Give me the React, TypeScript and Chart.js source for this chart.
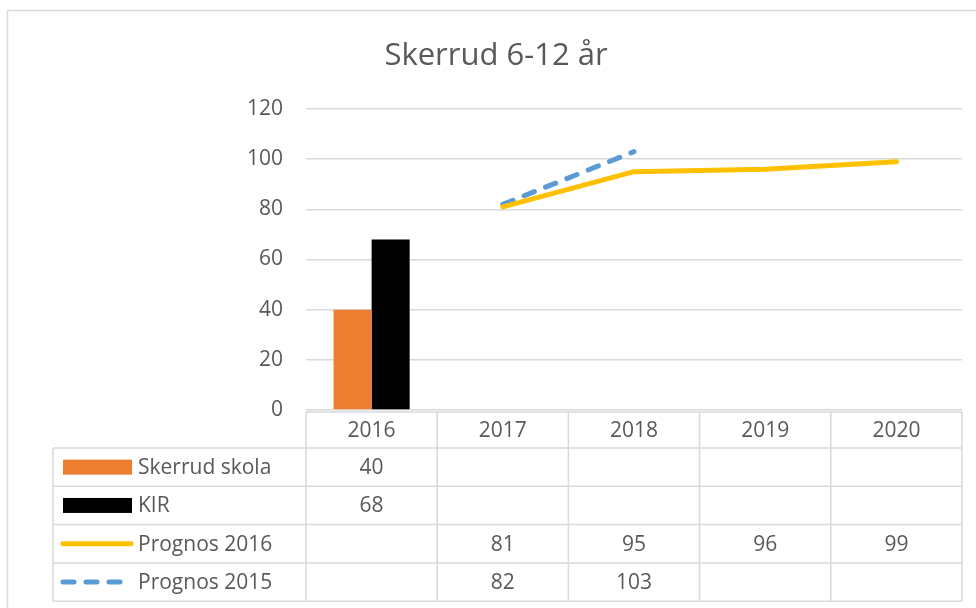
import React, { useEffect, useRef } from "react";
import { Chart, registerables } from "chart.js";

Chart.register(...registerables);

const TITLE = "Skerrud 6-12 år";
const YEARS = ["2016", "2017", "2018", "2019", "2020"];
const SERIES_NAMES = ["Skerrud skola", "KIR", "Prognos 2016", "Prognos 2015"];
const SKERRUD_SKOLA: (number | null)[] = [40, null, null, null, null];
const KIR: (number | null)[] = [68, null, null, null, null];
const PROGNOS_2016: (number | null)[] = [null, 81, 95, 96, 99];
const PROGNOS_2015: (number | null)[] = [null, 82, 103, null, null];
const Y_TICKS = [0, 20, 40, 60, 80, 100, 120];

const FONT = '"Open Sans", "Noto Sans", sans-serif';
const TEXT = "#595959";
const GRID = "#D9D9D9";
const ORANGE = "#ED7D31";
const BLACK = "#000000";
const YELLOW = "#FFC000";
const BLUE = "#5B9BD5";
const DASH = [11, 12];

const tablePlugin = {
  id: "dataTable",
  beforeDraw(chart: any) {
    const ctx = chart.ctx;
    ctx.save();
    ctx.strokeStyle = GRID;
    ctx.lineWidth = 1.5;
    ctx.strokeRect(7.5, 10.5, 1100, 800);
    ctx.restore();
  },
  afterDraw(chart: any) {
    const ctx = chart.ctx;
    const x = chart.scales.x;
    const area = chart.chartArea;
    const n = YEARS.length;
    const colW = (x.right - x.left) / n;
    const top = area.bottom + 2;
    const headerH = 36;
    const rowH = 38.3;
    const legendLeft = 53;
    const rows = chart.data.datasets;
    const bottom = top + headerH + rowH * rows.length;

    ctx.save();
    // title
    ctx.fillStyle = TEXT;
    ctx.font = `31px ${FONT}`;
    ctx.textAlign = "center";
    ctx.textBaseline = "alphabetic";
    ctx.fillText(TITLE, 496, 65);

    // grid lines of the table
    ctx.strokeStyle = GRID;
    ctx.lineWidth = 1.5;
    ctx.beginPath();
    ctx.moveTo(x.left, top);
    ctx.lineTo(x.right, top);
    for (let r = 0; r <= rows.length; r++) {
      const y = top + headerH + r * rowH;
      ctx.moveTo(legendLeft, y);
      ctx.lineTo(x.right, y);
    }
    ctx.moveTo(legendLeft, top + headerH);
    ctx.lineTo(legendLeft, bottom);
    for (let c = 0; c <= n; c++) {
      const cx = x.left + c * colW;
      ctx.moveTo(cx, top);
      ctx.lineTo(cx, bottom);
    }
    ctx.stroke();

    // header
    ctx.fillStyle = TEXT;
    ctx.font = `21px ${FONT}`;
    ctx.textAlign = "center";
    ctx.textBaseline = "middle";
    YEARS.forEach((yr, i) => {
      ctx.fillText(yr, x.getPixelForValue(i), top + headerH / 2 + 1);
    });

    // rows
    rows.forEach((ds: any, r: number) => {
      const cy = top + headerH + r * rowH + rowH / 2;
      if (ds.type === "line") {
        ctx.save();
        ctx.strokeStyle = ds.borderColor;
        ctx.lineWidth = 5;
        ctx.lineCap = "round";
        ctx.setLineDash(ds.borderDash || []);
        ctx.beginPath();
        ctx.moveTo(63, cy);
        ctx.lineTo(131, cy);
        ctx.stroke();
        ctx.restore();
      } else {
        ctx.fillStyle = ds.backgroundColor;
        ctx.fillRect(63, cy - 7.5, 69, 15);
      }
      ctx.fillStyle = TEXT;
      ctx.textAlign = "left";
      ctx.fillText(ds.label, 138, cy + 1);
      ctx.textAlign = "center";
      ds.data.forEach((v: number | null, i: number) => {
        if (v !== null && v !== undefined) {
          ctx.fillText(String(v), x.getPixelForValue(i), cy + 1);
        }
      });
    });
    ctx.restore();
  },
};

export default function App() {
  const ref = useRef<HTMLCanvasElement | null>(null);

  useEffect(() => {
    if (!ref.current) return;
    const chart = new Chart(ref.current, {
      type: "bar",
      data: {
        labels: YEARS,
        datasets: [
          {
            type: "bar",
            label: SERIES_NAMES[0],
            data: SKERRUD_SKOLA,
            backgroundColor: ORANGE,
            categoryPercentage: 0.58,
            barPercentage: 1,
            order: 3,
          },
          {
            type: "bar",
            label: SERIES_NAMES[1],
            data: KIR,
            backgroundColor: BLACK,
            categoryPercentage: 0.58,
            barPercentage: 1,
            order: 3,
          },
          {
            type: "line",
            label: SERIES_NAMES[2],
            data: PROGNOS_2016,
            borderColor: YELLOW,
            backgroundColor: YELLOW,
            borderWidth: 5,
            pointRadius: 0,
            borderCapStyle: "round",
            borderJoinStyle: "round",
            tension: 0,
            spanGaps: false,
            order: 1,
          },
          {
            type: "line",
            label: SERIES_NAMES[3],
            data: PROGNOS_2015,
            borderColor: BLUE,
            backgroundColor: BLUE,
            borderWidth: 5,
            borderDash: DASH,
            pointRadius: 0,
            borderCapStyle: "round",
            borderJoinStyle: "round",
            tension: 0,
            spanGaps: false,
            order: 2,
          },
        ] as any,
      },
      options: {
        animation: false,
        responsive: false,
        layout: { padding: { left: 0, right: 14, top: 109, bottom: 198 } },
        plugins: {
          legend: { display: false },
          title: { display: false },
          tooltip: { enabled: false },
        },
        scales: {
          x: { display: false, offset: true },
          y: {
            min: Y_TICKS[0],
            max: Y_TICKS[Y_TICKS.length - 1],
            ticks: {
              stepSize: Y_TICKS[1] - Y_TICKS[0],
              padding: 23,
              color: TEXT,
              font: { family: FONT, size: 21 },
            },
            grid: { color: GRID, lineWidth: 1.5, drawTicks: false },
            border: { display: false },
            afterFit: (s: any) => {
              s.width = 306;
            },
          },
        },
      } as any,
      plugins: [tablePlugin],
    });
    return () => chart.destroy();
  }, []);

  return (
    <div style={{ position: "absolute", left: 0, top: 0, width: 976, height: 608, background: "#fff" }}>
      <canvas ref={ref} width={976} height={608} style={{ display: "block" }} />
    </div>
  );
}
